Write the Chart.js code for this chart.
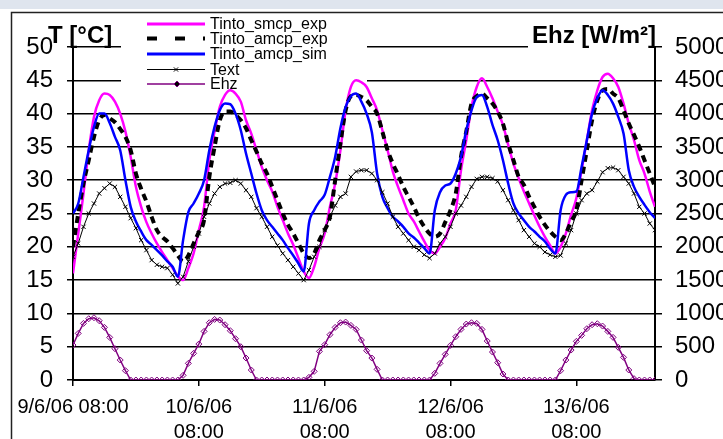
<!DOCTYPE html>
<html><head><meta charset="utf-8">
<script src="https://cdn.jsdelivr.net/npm/chart.js@4/dist/chart.umd.min.js"></script>
<style>html,body{margin:0;padding:0;background:#fff;overflow:hidden}#wrap{width:723px;height:439px;position:relative}</style>
</head><body><div id="wrap"><canvas id="c" width="723" height="439"></canvas></div>
<script>
// hours since 9/6/06 08:00 (hourly samples)
const hours = Array.from({length:112}, (_, i) => i);

const xTickHours = [0, 24, 48, 72, 96];
const xTickLabels = ['9/6/06 08:00', ['10/6/06','08:00'], ['11/6/06','08:00'], ['12/6/06','08:00'], ['13/6/06','08:00']];

const seriesNames = ['Tinto_smcp_exp', 'Tinto_amcp_exp', 'Tinto_amcp_sim', 'Text', 'Ehz'];

const tintoSmcpExp = [
 16, 22, 28, 34.5, 39.5, 42, 43, 42.8, 41.8, 40, 37.3, 33.5,
 29, 26, 23.7, 22, 20.5, 19.2, 18, 16.8, 15.6, 15, 16.8, 19,
 22.5, 26, 33, 37.3, 41, 42.8, 43.5, 43, 41.8, 39, 37, 34.5,
 32, 30, 28.3, 26, 24, 22, 20.3, 18.3, 16.3, 15.3, 17, 19.8,
 22, 26, 29.5, 34.5, 40.5, 44, 45, 44.7, 44, 42.3, 40.5, 37.5,
 34.5, 31.3, 29, 27, 25, 23.8, 22.3, 20.8, 19.5, 19, 20, 21.3,
 23.5, 25.5, 31.5, 36, 41, 44, 45.3, 44, 42.3, 40.3, 38.3, 35.3,
 32.5, 30.3, 28.3, 26.5, 24.7, 23, 21.5, 20.2, 19, 20, 22, 24.8,
 27.3, 31.5, 36, 40.5, 43.5, 45.5, 46, 45.3, 44, 41.5, 38.5, 36,
 33, 31, 28.3, 26
];

const tintoAmcpExp = [
 20, 25, 29.5, 33, 36.5, 39, 39.8, 39.3, 38.7, 37.7, 36.5, 34.5,
 31, 28.7, 26.8, 24.5, 22.5, 21.5, 20.8, 19.8, 18.7, 17.8, 18.7, 20.5,
 22.2, 24, 30.5, 35, 39, 40.3, 40.3, 39.8, 39, 37.8, 36, 34.3,
 32.5, 31, 29, 27, 25, 23.3, 22, 20.5, 19, 18.3, 19, 21,
 22.5, 24.5, 30, 35.5, 40.5, 42.6, 42.8, 42.5, 42, 41, 40, 37.3,
 34.5, 32.5, 30.8, 29, 27.5, 26, 24.3, 23, 22, 21.5, 22, 23.7,
 25.5, 28, 33.5, 37.3, 41.5, 42.6, 43, 42.3, 41.5, 40.3, 38.5, 35.5,
 33, 30.5, 29.3, 27.5, 26, 24.5, 23.3, 22.3, 21.5, 21, 22, 23.8,
 25.5, 30, 34.5, 39, 42, 43.5, 43.7, 43, 42.3, 40.5, 38.5, 36.8,
 35, 33, 31, 29
];

const tintoAmcpSim = [
 25, 26.5, 30.5, 34.5, 38, 40, 40, 38.6, 36.5, 34.5, 30, 26,
 23.8, 22.3, 21, 20.3, 19.5, 18.7, 17.8, 17, 15.5, 21, 25.2, 26.5,
 28, 30, 34.5, 38, 40.5, 41.5, 41.4, 40, 37.5, 34, 31, 28,
 25.5, 24, 23, 22, 21, 19.8, 18.7, 17.5, 16.3, 23.5, 25.5, 26.8,
 27.8, 30.5, 33.5, 37.8, 41, 42.6, 43, 41.8, 40, 37.2, 31, 27.5,
 25.8, 24.5, 23.8, 23, 22, 21.4, 20.6, 19.8, 19, 25.5, 28.2, 29.2,
 29.5, 31, 33.5, 37.5, 40.5, 42.5, 42.8, 41, 38.3, 36, 33, 29.5,
 26.5, 25, 24, 23, 22.3, 21.5, 20.8, 19.7, 19, 25.5, 27.8, 28.2,
 28.3, 32, 36, 40, 42.3, 43.5, 42.8, 41.5, 39.5, 37, 31.5, 29,
 27.5, 26.3, 25.2, 24.3
];

const tExt = [
 18.5, 20.5, 23, 25, 26.5, 28, 28.8, 29.5, 29, 27.5, 26, 24.3,
 22.8, 21, 19.5, 18, 17.3, 17, 16.8, 15.8, 14.5, 15.5, 17.8, 20,
 22, 24.5, 26.5, 28, 29, 29.5, 29.6, 30, 29.5, 28.5, 27.5, 25.8,
 24.5, 23, 21.5, 20.2, 19, 18, 17, 16, 15, 16.5, 18.5, 20,
 22.5, 24.5, 26.2, 27.5, 28, 30.5, 31.3, 31.5, 31.5, 31, 30, 28.2,
 26.5, 24.5, 23, 22, 21, 20, 19.5, 18.8, 18.3, 19, 20.5, 21.5,
 23, 25, 26.2, 27.5, 29, 30.2, 30.5, 30.5, 30.3, 29.8, 28.5, 27,
 25.5, 24, 22.5, 21.5, 20.5, 20, 19.2, 18.8, 18.5, 18.7, 20.5, 22.5,
 25, 27, 28, 28.5, 29.8, 31.2, 31.8, 31.9, 31.5, 30.5, 29.5, 28,
 26, 25, 23.5, 22.5
];

const ehz = [
 525, 700, 850, 920, 935, 890, 790, 640, 470, 300, 140, 0,
 0, 0, 0, 0, 0, 0, 0, 0, 0, 70, 250, 400,
 540, 730, 860, 910, 900, 830, 740, 620, 500, 330, 150, 0,
 0, 0, 0, 0, 0, 0, 0, 0, 0, 40, 130, 430,
 530, 680, 790, 860, 870, 820, 760, 600, 440, 330, 160, 0,
 0, 0, 0, 0, 0, 0, 0, 0, 0, 100, 250, 385,
 520, 650, 760, 840, 860, 850, 760, 585, 420, 260, 90, 0,
 0, 0, 0, 0, 0, 0, 0, 0, 0, 140, 300, 450,
 580, 670, 770, 830, 845, 810, 730, 640, 490, 340, 150, 20,
 0, 0, 0, 0
];

const pts = arr => hours.map((h, i) => ({x: h, y: arr[i]}));
const FONT = '"Liberation Sans", Arial, sans-serif';
Chart.defaults.font.family = FONT;
Chart.defaults.color = '#000';

const MAG = '#FF00FF', BLU = '#0000FF', PUR = '#800080';

const overlay = {
  id: 'overlay',
  beforeDraw(chart) {
    const ctx = chart.ctx;
    ctx.save();
    ctx.fillStyle = '#fff';
    ctx.fillRect(0, 0, 723, 439);
    ctx.fillStyle = '#dfe5ee';
    ctx.fillRect(0, 0, 723, 9);
    ctx.strokeStyle = '#222';
    ctx.lineWidth = 1.5;
    ctx.beginPath();
    ctx.moveTo(11.5, 439); ctx.lineTo(11.5, 12.5); ctx.lineTo(723, 12.5);
    ctx.stroke();
    ctx.restore();
  },
  beforeDatasetsDraw(chart) {
    const ctx = chart.ctx;
    ctx.save();
    ctx.fillStyle = '#fff';
    ctx.fillRect(121, 14, 246, 77);
    ctx.fillRect(528, 14, 124, 35);
    ctx.restore();
  },
  afterDraw(chart) {
    const ctx = chart.ctx;
    ctx.save();
    ctx.fillStyle = '#000';
    ctx.font = 'bold 24px ' + FONT;
    ctx.textBaseline = 'alphabetic';
    ctx.textAlign = 'left';
    ctx.fillText('T [°C]', 48, 43);
    ctx.textAlign = 'right';
    ctx.fillText('Ehz [W/m²]', 656, 43);

    // legend
    const rows = [24, 38.5, 54, 69.5, 84];
    const x0 = 147, x1 = 205;
    ctx.lineCap = 'butt';
    ctx.strokeStyle = MAG; ctx.lineWidth = 3;
    ctx.beginPath(); ctx.moveTo(x0, rows[0]); ctx.lineTo(x1, rows[0]); ctx.stroke();
    ctx.strokeStyle = '#000'; ctx.lineWidth = 4; ctx.setLineDash([10, 18]);
    ctx.beginPath(); ctx.moveTo(x0, rows[1]); ctx.lineTo(x1, rows[1]); ctx.stroke();
    ctx.setLineDash([]);
    ctx.strokeStyle = BLU; ctx.lineWidth = 3;
    ctx.beginPath(); ctx.moveTo(x0, rows[2]); ctx.lineTo(x1, rows[2]); ctx.stroke();
    ctx.strokeStyle = '#000'; ctx.lineWidth = 1;
    ctx.beginPath(); ctx.moveTo(x0, rows[3]); ctx.lineTo(x1, rows[3]); ctx.stroke();
    Chart.helpers.drawPoint(ctx, {pointStyle: 'crossRot', radius: 3, borderWidth: 1}, 176, rows[3]);
    ctx.strokeStyle = PUR; ctx.lineWidth = 1.5;
    ctx.beginPath(); ctx.moveTo(x0, rows[4]); ctx.lineTo(x1, rows[4]); ctx.stroke();
    ctx.lineWidth = 1;
    Chart.helpers.drawPoint(ctx, {pointStyle: 'rectRot', radius: 3, borderWidth: 1}, 177, rows[4]);

    ctx.fillStyle = '#000';
    ctx.font = '16px ' + FONT;
    ctx.textAlign = 'left';
    ctx.textBaseline = 'middle';
    seriesNames.forEach((n, i) => ctx.fillText(n, 210, rows[i] + 1));
    ctx.restore();
  }
};

new Chart(document.getElementById('c'), {
  type: 'line',
  data: {
    datasets: [
      {label: seriesNames[0], data: pts(tintoSmcpExp), yAxisID: 'y', borderColor: MAG, borderWidth: 2.5, pointRadius: 0, order: 5, cubicInterpolationMode: 'monotone'},
      {label: seriesNames[1], data: pts(tintoAmcpExp), yAxisID: 'y', borderColor: '#000', borderWidth: 4, borderDash: [7, 5], borderCapStyle: 'butt', pointRadius: 0, order: 4, cubicInterpolationMode: 'monotone'},
      {label: seriesNames[2], data: pts(tintoAmcpSim), yAxisID: 'y', borderColor: BLU, borderWidth: 2.5, pointRadius: 0, order: 3, cubicInterpolationMode: 'monotone'},
      {label: seriesNames[3], data: pts(tExt), yAxisID: 'y', borderColor: '#000', borderWidth: 1, pointStyle: 'crossRot', pointRadius: 3, pointBorderWidth: 1, pointBorderColor: '#000', order: 2},
      {label: seriesNames[4], data: pts(ehz), yAxisID: 'y1', borderColor: PUR, borderWidth: 1.5, pointStyle: 'rectRot', pointRadius: 3, pointBorderWidth: 1, pointBorderColor: PUR, pointBackgroundColor: 'rgba(255,255,255,0)', order: 1}
    ]
  },
  options: {
    responsive: false,
    devicePixelRatio: 1,
    animation: false,
    layout: {padding: {top: 47, left: 0, right: 0, bottom: 0}},
    plugins: {legend: {display: false}, tooltip: {enabled: false}},
    scales: {
      x: {
        type: 'linear', min: 0, max: 111,
        afterBuildTicks: s => { s.ticks = xTickHours.map(v => ({value: v})); },
        afterFit: s => { s.height = 59; },
        ticks: {
          autoSkip: false, maxRotation: 0, padding: 9, color: '#000',
          font: {size: 20, lineHeight: 1.25},
          callback: v => { const i = xTickHours.indexOf(v); return i >= 0 ? xTickLabels[i] : ''; }
        },
        grid: {drawOnChartArea: false, tickLength: 6, color: '#000', lineWidth: 1.5},
        border: {color: '#000', width: 2}
      },
      y: {
        position: 'left', min: 0, max: 50,
        afterFit: s => { s.width = 73; },
        ticks: {stepSize: 5, padding: 14, color: '#000', font: {size: 24}, callback: v => String(v)},
        grid: {color: '#000', lineWidth: 1.5, tickLength: 6},
        border: {color: '#000', width: 2}
      },
      y1: {
        position: 'right', min: 0, max: 5000,
        afterFit: s => { s.width = 68; },
        ticks: {stepSize: 500, padding: 13, color: '#000', font: {size: 24}, callback: v => String(v)},
        grid: {drawOnChartArea: false, color: '#000', lineWidth: 1.5, tickLength: 7},
        border: {color: '#000', width: 2}
      }
    }
  },
  plugins: [overlay]
});
</script></body></html>
